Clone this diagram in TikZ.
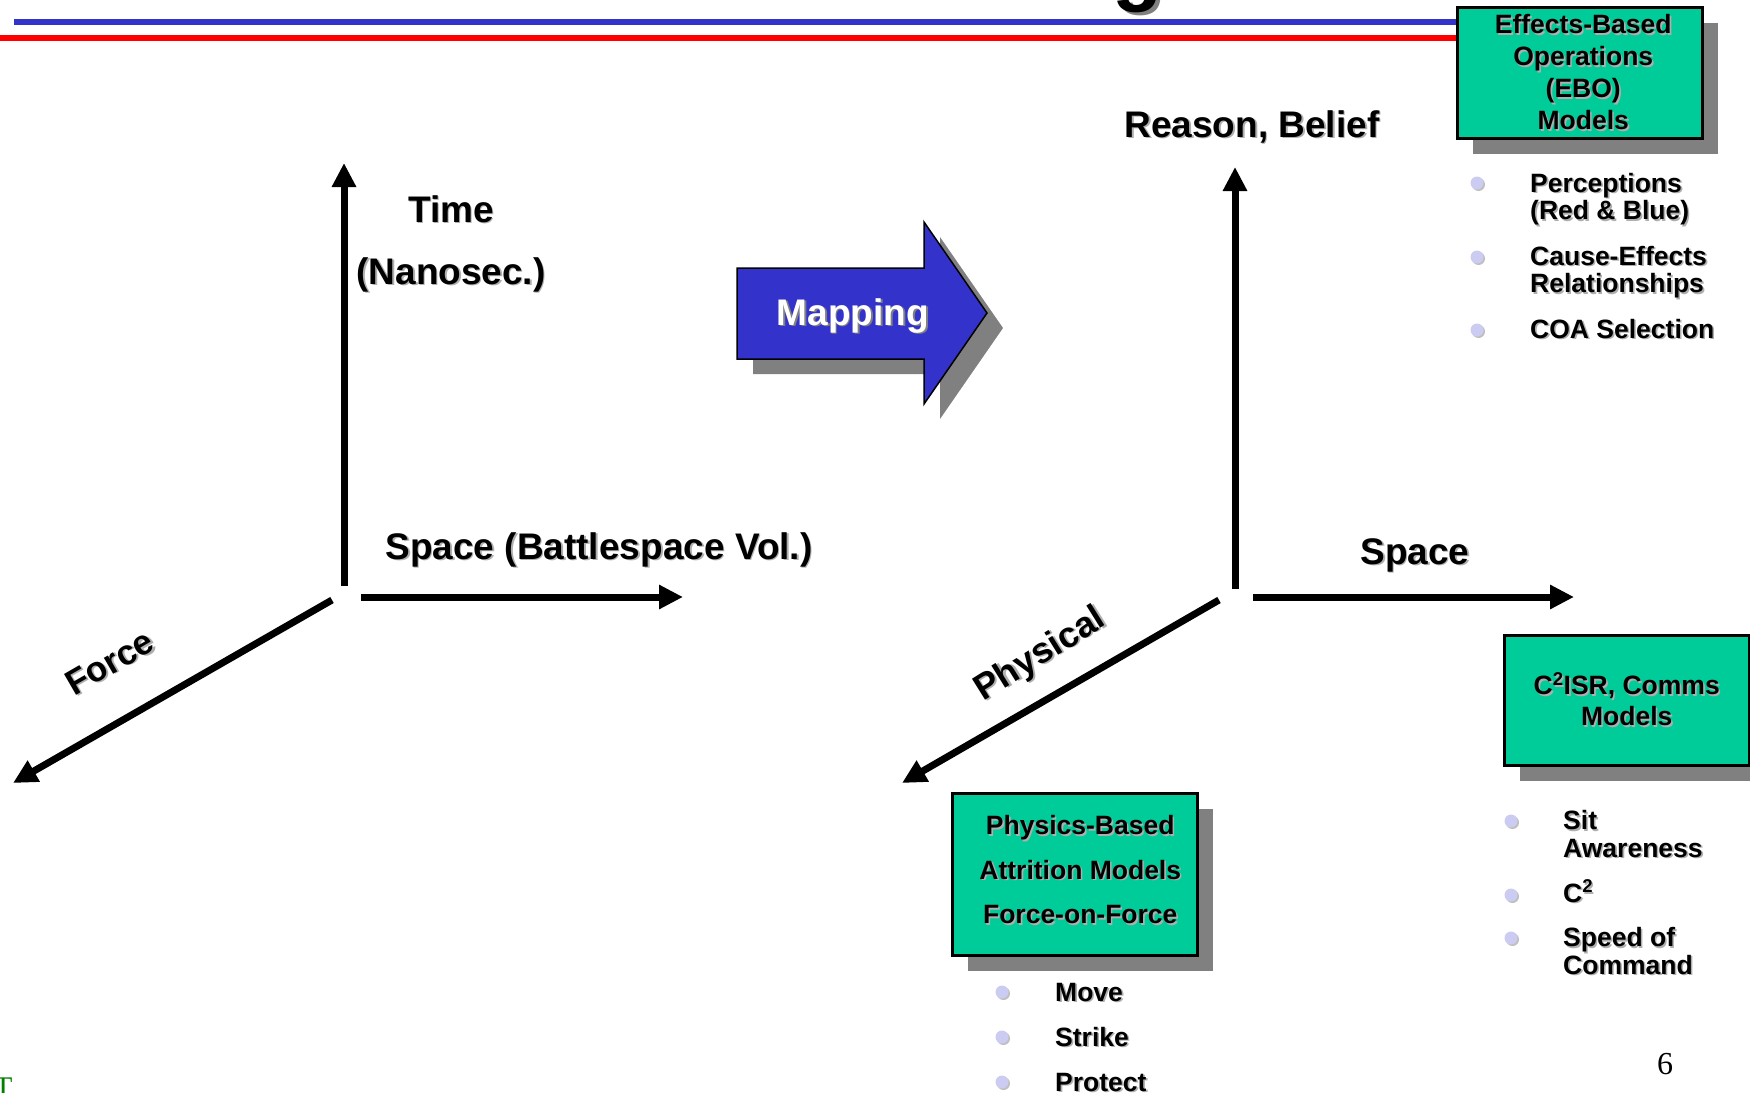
\documentclass[tikz,border=0pt]{standalone}
\usepackage{fontspec}
\setmainfont{Liberation Sans}
\newfontfamily\seriffont{Liberation Serif}
\usetikzlibrary{arrows.meta,shadows}

\definecolor{boxgreen}{RGB}{0,204,153}
\definecolor{mapblue}{RGB}{51,51,204}
\definecolor{rulered}{RGB}{255,0,0}
\definecolor{shadowgrey}{RGB}{128,128,128}
\definecolor{bulletlav}{RGB}{204,204,242}
\definecolor{txtshadow}{RGB}{175,175,175}
\definecolor{pagegreen}{RGB}{0,128,0}

% text with a soft offset shadow
\newcommand\shd[2][txtshadow]{\leavevmode\rlap{\kern1.6pt\raisebox{-1.6pt}{\textcolor{#1}{#2}}}#2}

\begin{document}
\begin{tikzpicture}[x=1pt,y=-1pt,
  axis/.style={line width=7pt,-{Triangle[length=24pt,width=23pt]}},
  biglabel/.style={inner sep=0,font=\fontsize{37}{44}\selectfont\bfseries},
  modelbox/.style={draw=black,line width=2.5pt,fill=boxgreen,inner sep=0,
     minimum width=245pt,anchor=north west,align=center,
     drop shadow={shadow xshift=16pt,shadow yshift=-16pt,fill=shadowgrey,opacity=1}},
  listtext/.style={inner sep=0,anchor=base west,align=left,
     font=\fontsize{26.5}{27.5}\selectfont\bfseries},
  dot/.style={circle,inner sep=0,minimum size=13pt,fill=bulletlav,
     drop shadow={shadow xshift=1.5pt,shadow yshift=-1.5pt,fill=black!25,opacity=1}},
  headrule/.style={line width=6pt}
]
\useasboundingbox (0,0) rectangle (1750,1092);

% header rules and the foot of the title
\coordinate (blueL) at (14,22);  \coordinate (blueR) at (1462,22);
\coordinate (redL)  at (0,38);   \coordinate (redR)  at (1462,38);
\draw[headrule,mapblue] (blueL) -- (blueR);
\draw[headrule,rulered] (redL) -- (redR);
\node[inner sep=0,anchor=base,font=\fontsize{82}{82}\selectfont\bfseries] (titleg) at (1138,-5)
  {\rlap{\kern3.5pt\raisebox{-3.5pt}{\textcolor{shadowgrey}{g}}}g};

% ---------- left frame: time / space / force ----------
\coordinate (lv0) at (344,586); \coordinate (lvT) at (344,163);
\coordinate (lh0) at (361,597); \coordinate (lhT) at (683,597);
\coordinate (ld0) at (332,600); \coordinate (ldT) at (13,783);
\draw[axis] (lv0) -- (lvT);
\draw[axis] (lh0) -- (lhT);
\draw[axis] (ld0) -- (ldT);

\node[biglabel,anchor=base] (time) at (451,222) {\shd{Time}};
\node[biglabel,anchor=base] (nano) at (451,284) {\shd{(Nanosec.)}};
\node[biglabel,anchor=base] (spaceL) at (599,559) {\shd{Space (Battlespace Vol.)}};
\node[biglabel,font=\fontsize{35}{40}\selectfont\bfseries,rotate=30] (force) at (110,663) {\shd{Force}};

% ---------- mapping arrow ----------
\path[draw=black,line width=1.5pt,fill=mapblue,
      drop shadow={shadow xshift=16pt,shadow yshift=-15pt,fill=shadowgrey,opacity=1}]
  (737,268) -- (924,268) -- (924,222) -- (987,313) -- (924,404) -- (924,359) -- (737,359) -- cycle;
\node[biglabel,anchor=base,text=white] (mapping) at (853,325) {\shd[shadowgrey]{Mapping}};

% ---------- right frame: reason / space / physical ----------
\coordinate (rv0) at (1235,589); \coordinate (rvT) at (1235,167);
\coordinate (rh0) at (1253,597); \coordinate (rhT) at (1574,597);
\coordinate (rd0) at (1219,600); \coordinate (rdT) at (902,783);
\draw[axis] (rv0) -- (rvT);
\draw[axis] (rh0) -- (rhT);
\draw[axis] (rd0) -- (rdT);

\node[biglabel,anchor=base] (reason) at (1252,137) {\shd{Reason, Belief}};
\node[biglabel,anchor=base] (spaceR) at (1415,564) {\shd{Space}};
\node[biglabel,font=\fontsize{36}{40}\selectfont\bfseries,rotate=32] (physical) at (1041,656) {\shd{Physical}};

% ---------- model boxes ----------
\node[modelbox,minimum height=131pt,font=\fontsize{26.5}{32}\selectfont\bfseries] (ebo) at (1456,6)
  {\hspace*{7pt}\shd{Effects-Based}\\\hspace*{7pt}\shd{Operations}\\\hspace*{7pt}\shd{(EBO)}\\\hspace*{7pt}\shd{Models}};
\node[modelbox,minimum height=162pt,font=\fontsize{26.5}{44.5}\selectfont\bfseries] (phys) at (951,792)
  {\hspace*{11pt}\shd{Physics-Based}\\\hspace*{11pt}\shd{Attrition Models}\\\hspace*{11pt}\shd{Force-on-Force}\rule[-9pt]{0pt}{9pt}};
\node[modelbox,minimum height=130pt,font=\fontsize{26.5}{31}\selectfont\bfseries] (c2isr) at (1503,634)
  {\shd{C\textsuperscript{2}ISR, Comms}\\\shd{Models}};

% ---------- bullet lists (base anchor sits on the last line) ----------
\node[dot] (e1) at (1477,183) {};
\node[dot] (e2) at (1477,257) {};
\node[dot] (e3) at (1477,330) {};
\node[listtext] (e1t) at (1530,219.5) {\shd{Perceptions}\\\shd{(Red \& Blue)}};
\node[listtext] (e2t) at (1530,292.5) {\shd{Cause-Effects}\\\shd{Relationships}};
\node[listtext] (e3t) at (1530,338) {\shd{COA Selection}};

\node[dot] (c1) at (1511,821) {};
\node[dot] (c2) at (1511,895) {};
\node[dot] (c3) at (1511,938) {};
\node[listtext] (c1t) at (1563,857) {\shd{Sit}\\\shd{Awareness}};
\node[listtext] (c2t) at (1563,902) {\shd{C\textsuperscript{2}}};
\node[listtext] (c3t) at (1563,974) {\shd{Speed of}\\\shd{Command}};

\node[dot] (p1) at (1002,992) {};
\node[dot] (p2) at (1002,1037) {};
\node[dot] (p3) at (1002,1082) {};
\node[listtext] (p1t) at (1055,1001) {\shd{Move}};
\node[listtext] (p2t) at (1055,1046) {\shd{Strike}};
\node[listtext] (p3t) at (1055,1091) {\shd{Protect}};

% ---------- page furniture ----------
\node[inner sep=0,anchor=base,font=\seriffont\fontsize{32}{32}\selectfont] (pageno) at (1665,1074) {6};
\node[inner sep=0,anchor=base west,font=\seriffont\fontsize{30}{30}\selectfont,text=pagegreen] (footT) at (-6,1097) {T};
\end{tikzpicture}
\end{document}
